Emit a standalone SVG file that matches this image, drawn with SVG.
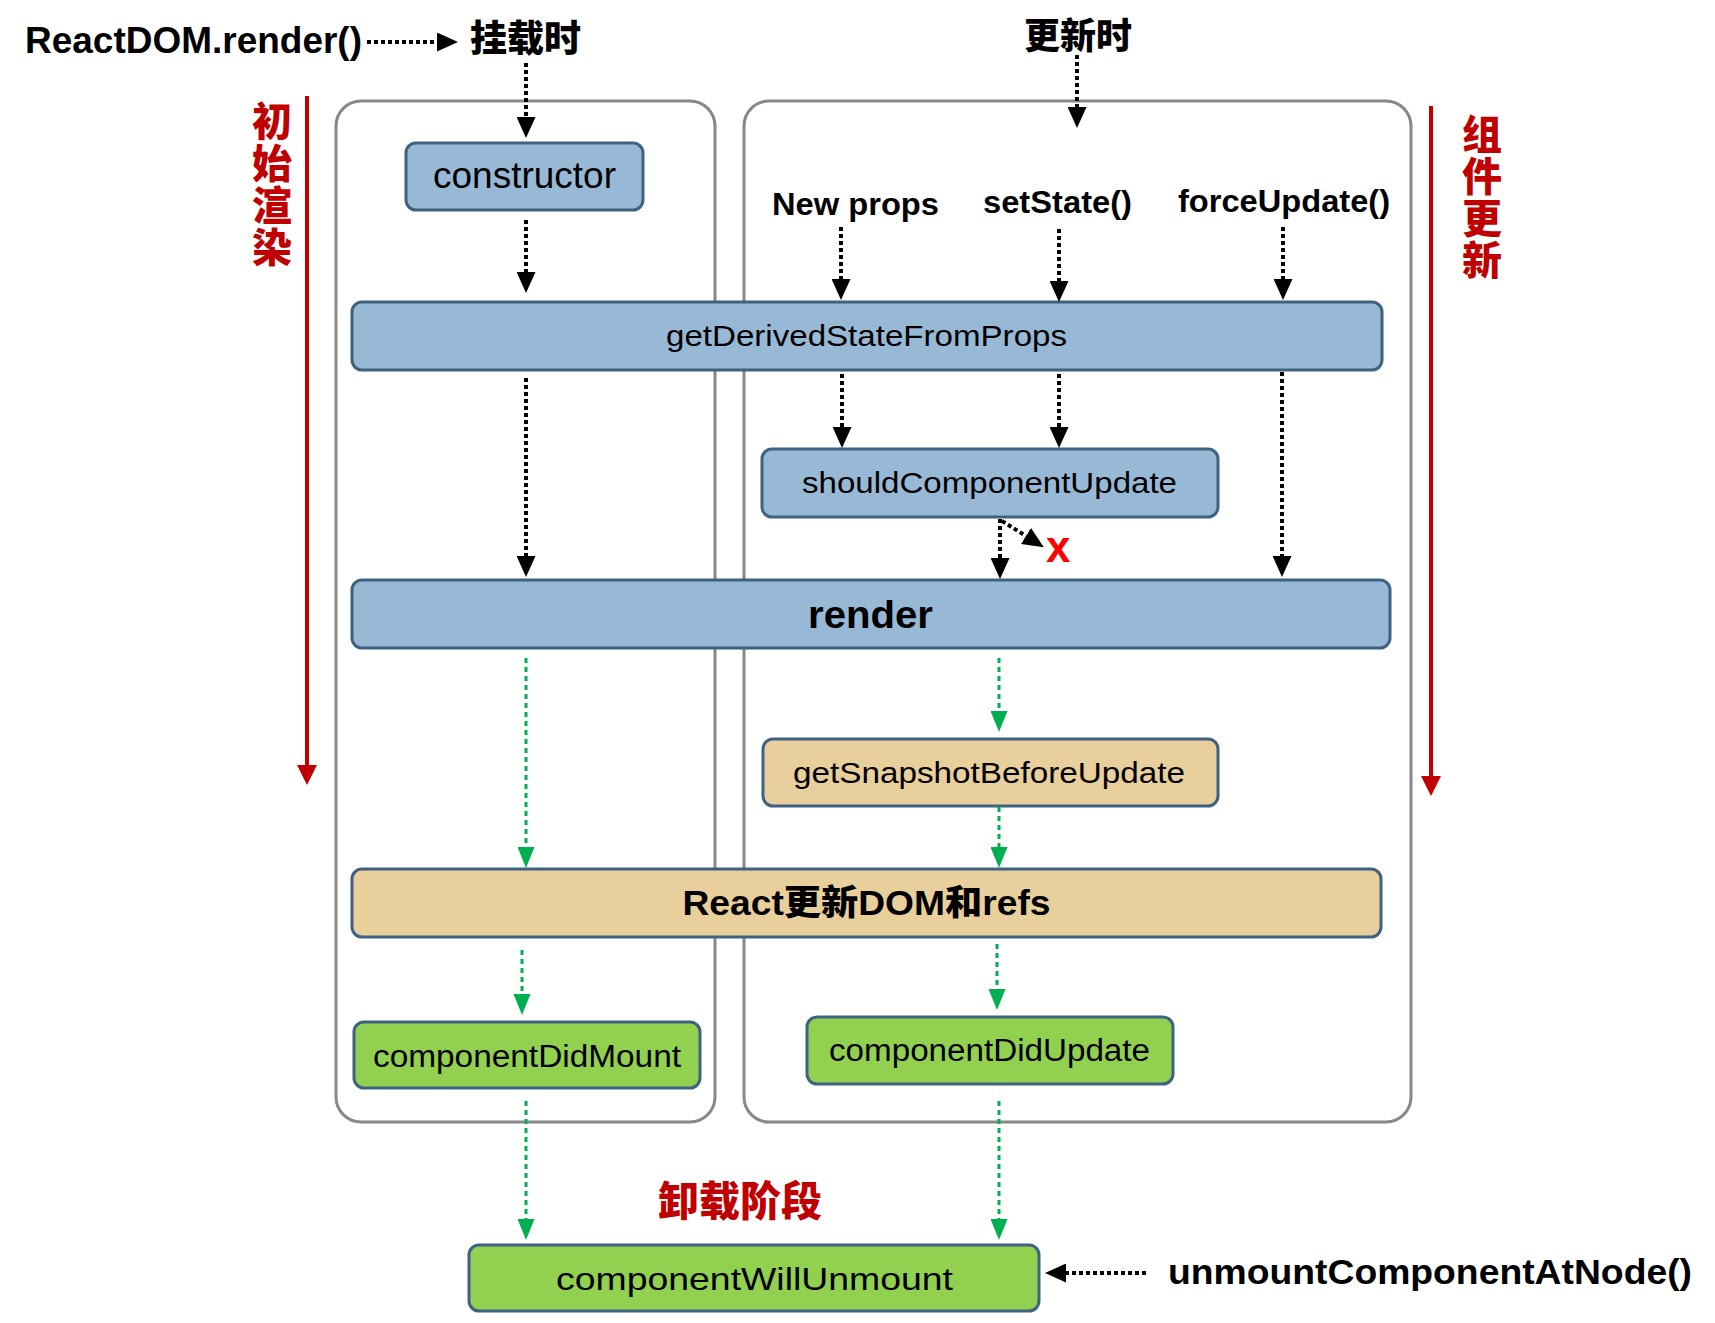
<svg xmlns="http://www.w3.org/2000/svg" width="1715" height="1323" viewBox="0 0 1715 1323">
<style>
  .bg { fill: #ffffff; }
  .container { fill: none; stroke: #888888; stroke-width: 3; }
  .blue { fill: #98b9d6; stroke: #3f6282; stroke-width: 3; }
  .tan { fill: #e8cf9c; stroke: #3f6282; stroke-width: 3; }
  .green { fill: #92d050; stroke: #3f6282; stroke-width: 3; }
  .txt { font-family: "Liberation Sans", Arial, sans-serif; fill: #000; }
  .bold { font-weight: bold; }
  .cjk { font-family: "Liberation Sans", "Noto Sans CJK SC", sans-serif; font-weight: 900; }
  .red { fill: #c00000; }
  .blk { fill: none; stroke: #000; stroke-width: 4; stroke-dasharray: 4 3; }
  .grn { fill: none; stroke: #00b050; stroke-width: 3; stroke-dasharray: 5 4; }
  .redline { fill: none; stroke: #c00000; stroke-width: 4; }
</style>
<defs>
  <marker id="ab" viewBox="0 0 21 19" refX="0" refY="9.5" markerWidth="21" markerHeight="19" markerUnits="userSpaceOnUse" orient="auto">
    <path d="M0,0 L21,9.5 L0,19 z" fill="#000"/>
  </marker>
  <marker id="ag" viewBox="0 0 21 17" refX="0" refY="8.5" markerWidth="21" markerHeight="17" markerUnits="userSpaceOnUse" orient="auto">
    <path d="M0,0 L21,8.5 L0,17 z" fill="#00b050"/>
  </marker>
  <marker id="ar" viewBox="0 0 20 20" refX="0" refY="10" markerWidth="20" markerHeight="20" markerUnits="userSpaceOnUse" orient="auto">
    <path d="M0,0 L20,10 L0,20 z" fill="#c00000"/>
  </marker>
</defs>
<rect class="bg" x="0" y="0" width="1715" height="1323"/>

<g id="containers">
  <rect id="mount-phase" class="container" x="336" y="101" width="379" height="1021" rx="25"/>
  <rect id="update-phase" class="container" x="744" y="101" width="667" height="1021" rx="25"/>
</g>

<g id="labels">
  <text id="label-reactdom" class="txt bold" x="25" y="53" font-size="37" textLength="337" lengthAdjust="spacingAndGlyphs">ReactDOM.render()</text>
  <text id="label-mount" class="cjk" x="470" y="52" font-size="37">挂载时</text>
  <text id="label-update" class="cjk" x="1024" y="49" font-size="36">更新时</text>
  <text id="label-newprops" class="txt bold" x="772" y="215" font-size="31" textLength="167" lengthAdjust="spacingAndGlyphs">New props</text>
  <text id="label-setstate" class="txt bold" x="983" y="213" font-size="31" textLength="149" lengthAdjust="spacingAndGlyphs">setState()</text>
  <text id="label-forceupdate" class="txt bold" x="1178" y="212" font-size="31" textLength="212" lengthAdjust="spacingAndGlyphs">forceUpdate()</text>
  <text id="label-initial" class="cjk red" font-size="40" text-anchor="middle">
    <tspan x="272" y="136">初</tspan><tspan x="272" y="178">始</tspan><tspan x="272" y="220">渲</tspan><tspan x="272" y="262">染</tspan>
  </text>
  <text id="label-compupdate" class="cjk red" font-size="40" text-anchor="middle">
    <tspan x="1482" y="149">组</tspan><tspan x="1482" y="191">件</tspan><tspan x="1482" y="233">更</tspan><tspan x="1482" y="275">新</tspan>
  </text>
  <text id="label-unmount" class="cjk red" x="658" y="1216" font-size="41">卸载阶段</text>
  <text id="label-unmountnode" class="txt bold" x="1168" y="1284" font-size="35" textLength="524" lengthAdjust="spacingAndGlyphs">unmountComponentAtNode()</text>
  <text id="label-x" class="txt bold" x="1046" y="562" font-size="44" style="fill:#ff0000">x</text>
</g>

<g id="constructor">
  <rect class="blue" x="406" y="143" width="237" height="67" rx="10"/>
  <text class="txt" x="524.5" y="188" font-size="36" text-anchor="middle" textLength="183" lengthAdjust="spacingAndGlyphs">constructor</text>
</g>
<g id="getDerivedStateFromProps">
  <rect class="blue" x="352" y="302" width="1030" height="68" rx="10"/>
  <text class="txt" x="866.5" y="346" font-size="30" text-anchor="middle" textLength="401" lengthAdjust="spacingAndGlyphs">getDerivedStateFromProps</text>
</g>
<g id="shouldComponentUpdate">
  <rect class="blue" x="762" y="449" width="456" height="68" rx="10"/>
  <text class="txt" x="989.5" y="493" font-size="30" text-anchor="middle" textLength="375" lengthAdjust="spacingAndGlyphs">shouldComponentUpdate</text>
</g>
<g id="render">
  <rect class="blue" x="352" y="580" width="1038" height="68" rx="10"/>
  <text class="txt bold" x="870.5" y="628" font-size="38" text-anchor="middle" textLength="125" lengthAdjust="spacingAndGlyphs">render</text>
</g>
<g id="getSnapshotBeforeUpdate">
  <rect class="tan" x="763" y="739" width="455" height="67" rx="10"/>
  <text class="txt" x="989" y="783" font-size="30" text-anchor="middle" textLength="392" lengthAdjust="spacingAndGlyphs">getSnapshotBeforeUpdate</text>
</g>
<g id="reactUpdateDOM">
  <rect class="tan" x="352" y="869" width="1029" height="68" rx="10"/>
  <text class="cjk" x="866.5" y="915" font-size="35" text-anchor="middle" textLength="368" lengthAdjust="spacingAndGlyphs">React更新DOM和refs</text>
</g>
<g id="componentDidMount">
  <rect class="green" x="354" y="1022" width="346" height="66" rx="10"/>
  <text class="txt" x="527" y="1067" font-size="31" text-anchor="middle" textLength="308" lengthAdjust="spacingAndGlyphs">componentDidMount</text>
</g>
<g id="componentDidUpdate">
  <rect class="green" x="807" y="1017" width="366" height="67" rx="10"/>
  <text class="txt" x="989.5" y="1061" font-size="31" text-anchor="middle" textLength="321" lengthAdjust="spacingAndGlyphs">componentDidUpdate</text>
</g>
<g id="componentWillUnmount">
  <rect class="green" x="469" y="1245" width="570" height="66" rx="10"/>
  <text class="txt" x="754.5" y="1290" font-size="32" text-anchor="middle" textLength="397" lengthAdjust="spacingAndGlyphs">componentWillUnmount</text>
</g>

<g id="connectors">
  <line class="blk" x1="367" y1="42" x2="437" y2="42" marker-end="url(#ab)"/>
  <line class="blk" x1="526" y1="63" x2="526" y2="117" marker-end="url(#ab)"/>
  <line class="blk" x1="526" y1="220" x2="526" y2="272" marker-end="url(#ab)"/>
  <line class="blk" x1="1077" y1="55" x2="1077" y2="107" marker-end="url(#ab)"/>
  <line class="blk" x1="841" y1="227" x2="841" y2="279" marker-end="url(#ab)"/>
  <line class="blk" x1="1059" y1="229" x2="1059" y2="281" marker-end="url(#ab)"/>
  <line class="blk" x1="1283" y1="227" x2="1283" y2="279" marker-end="url(#ab)"/>
  <line class="blk" x1="526" y1="378" x2="526" y2="556" marker-end="url(#ab)"/>
  <line class="blk" x1="842" y1="374" x2="842" y2="427" marker-end="url(#ab)"/>
  <line class="blk" x1="1059" y1="374" x2="1059" y2="427" marker-end="url(#ab)"/>
  <line class="blk" x1="1282" y1="372" x2="1282" y2="556" marker-end="url(#ab)"/>
  <line class="blk" x1="1000" y1="519" x2="1000" y2="558" marker-end="url(#ab)"/>
  <line class="blk" x1="1002" y1="521" x2="1026" y2="536" marker-end="url(#ab)"/>
  <line class="blk" x1="1146" y1="1273" x2="1066" y2="1273" marker-end="url(#ab)"/>

  <line class="grn" x1="999" y1="658" x2="999" y2="711" marker-end="url(#ag)"/>
  <line class="grn" x1="999" y1="807" x2="999" y2="847" marker-end="url(#ag)"/>
  <line class="grn" x1="526" y1="658" x2="526" y2="847" marker-end="url(#ag)"/>
  <line class="grn" x1="522" y1="950" x2="522" y2="994" marker-end="url(#ag)"/>
  <line class="grn" x1="997" y1="944" x2="997" y2="989" marker-end="url(#ag)"/>
  <line class="grn" x1="526" y1="1101" x2="526" y2="1219" marker-end="url(#ag)"/>
  <line class="grn" x1="999" y1="1101" x2="999" y2="1219" marker-end="url(#ag)"/>

  <line class="redline" x1="307" y1="96" x2="307" y2="765" marker-end="url(#ar)"/>
  <line class="redline" x1="1431" y1="106" x2="1431" y2="776" marker-end="url(#ar)"/>
</g>
</svg>
